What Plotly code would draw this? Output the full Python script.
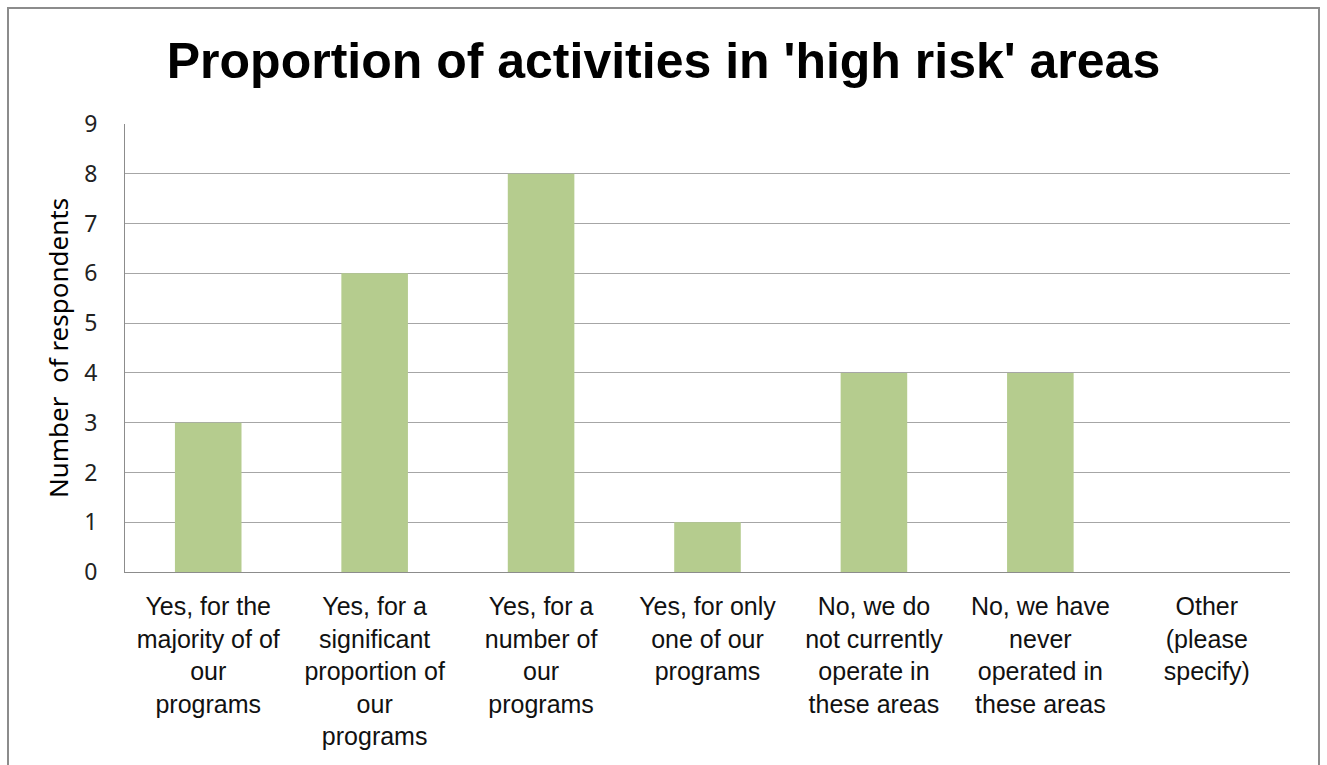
import plotly.graph_objects as go

# Survey responses: share of activities in 'high risk' areas
categories = [
    "Yes, for the<br>majority of of<br>our<br>programs",
    "Yes, for a<br>significant<br>proportion of<br>our<br>programs",
    "Yes, for a<br>number of<br>our<br>programs",
    "Yes, for only<br>one of our<br>programs",
    "No, we do<br>not currently<br>operate in<br>these areas",
    "No, we have<br>never<br>operated in<br>these areas",
    "Other<br>(please<br>specify)",
]
respondents = [3, 6, 8, 1, 4, 4, 0]
y_ticks = list(range(0, 10))

W, H = 1327, 765
L, R, T, B = 125, 37, 124, 193
pw, ph = W - L - R, H - T - B


def px_to_paper_x(px):
    return (px - L) / pw


def px_to_paper_y(py):
    return (H - B - py) / ph


fig = go.Figure(
    go.Bar(
        x=categories,
        y=respondents,
        marker=dict(color="#B5CC8E", line=dict(width=0)),
        hoverinfo="x+y",
    )
)

fig.update_layout(
    width=W,
    height=H,
    margin=dict(l=L, r=R, t=T, b=B),
    paper_bgcolor="white",
    plot_bgcolor="white",
    bargap=0.6,
    showlegend=False,
    title=dict(
        text="<b>Proportion of activities in 'high risk' areas</b>",
        font=dict(family="Liberation Sans, Arial", size=50, color="black"),
        x=0.5,
        xanchor="center",
        xref="container",
        y=1 - 60 / H,
        yanchor="middle",
        yref="container",
    ),
    font=dict(family="Liberation Sans, Arial", color="black"),
)

fig.update_xaxes(
    showline=True,
    linecolor="#8C8C8C",
    linewidth=1,
    showgrid=False,
    ticks="",
    tickangle=0,
    ticklabelstandoff=12,
    tickfont=dict(family="Liberation Sans, Arial", size=25, color="#111111"),
)

fig.update_yaxes(
    range=[0, 9],
    tickvals=y_ticks,
    showline=True,
    linecolor="#8C8C8C",
    linewidth=1,
    showgrid=True,
    gridcolor="#A6A6A6",
    gridwidth=1,
    ticks="",
    ticklabelstandoff=22,
    zeroline=False,
    tickfont=dict(family="Noto Sans", size=23, color="#222222"),
    title=dict(
        text="Number\u00a0 of respondents",
        font=dict(family="Noto Sans", size=26, color="black"),
        standoff=8,
    ),
)

# outer chart frame
fig.add_shape(
    type="rect",
    xref="paper",
    yref="paper",
    x0=px_to_paper_x(8),
    x1=px_to_paper_x(1319),
    y0=px_to_paper_y(790),
    y1=px_to_paper_y(8),
    line=dict(color="#8C8C8C", width=2),
    fillcolor="rgba(0,0,0,0)",
    layer="below",
)

fig.write_html("out.html")
